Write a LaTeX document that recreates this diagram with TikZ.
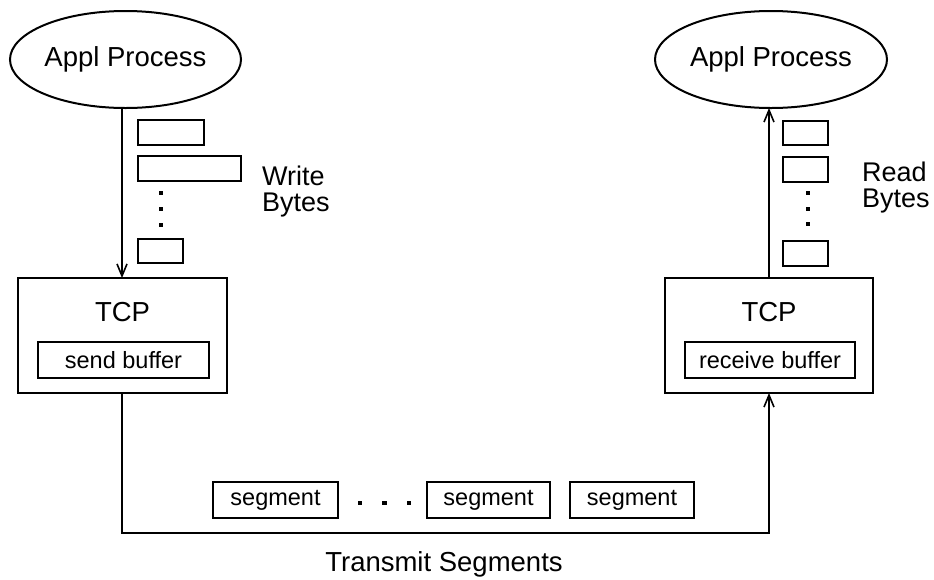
\documentclass[tikz,border=0pt]{standalone}
\usepackage{fontspec}
\setmainfont{Liberation Sans}
\usetikzlibrary{shapes.geometric,arrows.meta}
\begin{document}
\begin{tikzpicture}[x=1pt,y=-1pt,
  lw/.style={line width=2pt},
  procnode/.style={ellipse,draw,lw,inner sep=0pt,outer sep=0pt,font=\fontsize{27.5}{27.5}\selectfont},
  tcpbox/.style={rectangle,draw,lw,inner sep=0pt,outer sep=0pt,minimum width=209pt,minimum height=115pt},
  bufbox/.style={rectangle,draw,lw,inner sep=0pt,outer sep=0pt,minimum height=36pt,font=\fontsize{23.5}{23.5}\selectfont},
  bytebox/.style={rectangle,draw,lw,inner sep=0pt,outer sep=0pt},
  dotmark/.style={rectangle,fill=black,inner sep=0pt,minimum width=4.5pt,minimum height=4.5pt},
  bigtext/.style={font=\fontsize{27.5}{27.5}\selectfont,inner sep=0pt},
  sidetext/.style={font=\fontsize{27}{26}\selectfont,inner sep=0pt,align=left,anchor=north west},
  arr/.style={lw,-{Straight Barb[length=12pt,width=10pt,line width=1.6pt]}}
]
\useasboundingbox (0,0) rectangle (934,579);

% processes
\node[procnode,minimum width=231pt,minimum height=97pt] (ell1) at (125.5,59.5) {Appl Process};
\node[procnode,minimum width=232pt,minimum height=97pt] (ell2) at (771,59.5) {Appl Process};

% TCP boxes
\node[tcpbox] (tcp1) at (122,335.5) {};
\node[tcpbox,minimum width=208pt] (tcp2) at (769,335.5) {};
\node[bigtext] (tcpl1) at (122.5,312) {TCP};
\node[bigtext] (tcpl2) at (769,312) {TCP};
\node[bufbox,minimum width=171pt] (sbuf) at (123.5,360) {send buffer};
\node[bufbox,minimum width=170pt] (rbuf) at (770,360) {receive buffer};

% write bytes
\node[bytebox,minimum width=66pt,minimum height=25pt] (wb1) at (171,132.5) {};
\node[bytebox,minimum width=103pt,minimum height=25pt] (wb2) at (189.5,168.5) {};
\node[bytebox,minimum width=45pt,minimum height=24pt] (wb3) at (160.5,251) {};
\node[dotmark] (wd1) at (161,193) {};
\node[dotmark] (wd2) at (161,209) {};
\node[dotmark] (wd3) at (161,225) {};
\node[sidetext] (wtxt) at (262,166) {Write\\Bytes};

% read bytes
\node[bytebox,minimum width=45pt,minimum height=24pt] (rb1) at (805.5,133) {};
\node[bytebox,minimum width=45pt,minimum height=25pt] (rb2) at (805.5,169.5) {};
\node[bytebox,minimum width=45pt,minimum height=25pt] (rb3) at (805.5,253.5) {};
\node[dotmark] (rd1) at (808,193) {};
\node[dotmark] (rd2) at (808,209) {};
\node[dotmark] (rd3) at (808,224) {};
\node[sidetext] (rtxt) at (862,162) {Read\\Bytes};

% segments
\node[bufbox,minimum width=125pt] (seg1) at (275.5,500) {segment};
\node[bufbox,minimum width=123pt] (seg2) at (488.5,500) {segment};
\node[bufbox,minimum width=124pt] (seg3) at (632,500) {segment};
\node[dotmark] (sd1) at (360,503) {};
\node[dotmark] (sd2) at (384.5,503) {};
\node[dotmark] (sd3) at (409,503) {};
\node[bigtext] (ttxt) at (444,564) {Transmit Segments};

% connectors
\draw[arr] (tcp1.north |- ell1.south) -- (tcp1.north);
\draw[arr] (tcp2.north) -- (tcp2.north |- ell2.south);
\draw[arr] (tcp1.south) -- ++(0,140) -| (tcp2.south);
\end{tikzpicture}
\end{document}
